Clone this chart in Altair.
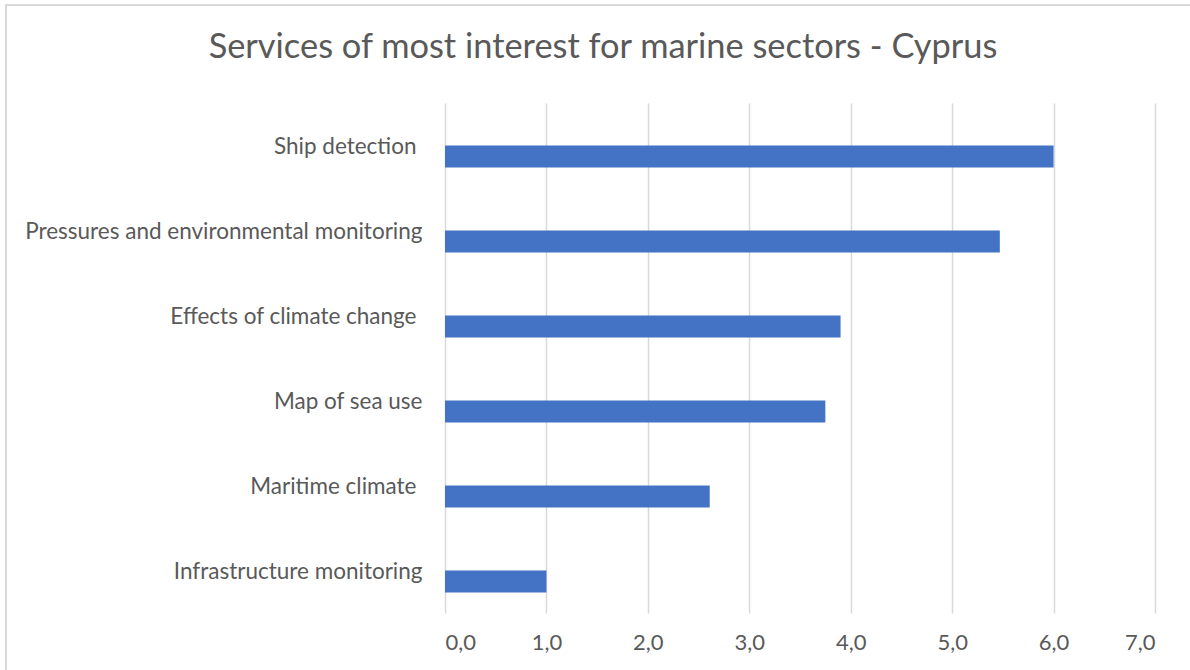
import altair as alt
import pandas as pd

categories = [
    "Ship detection ",
    "Pressures and environmental monitoring",
    "Effects of climate change ",
    "Map of sea use",
    "Maritime climate ",
    "Infrastructure monitoring",
]
values = [6.0, 5.47, 3.9, 3.75, 2.61, 1.0]
x_ticks = [0, 1, 2, 3, 4, 5, 6, 7]
title_text = "Services of most interest for marine sectors - Cyprus"

df = pd.DataFrame({"service": categories, "value": values})

FONT = "Lato"
GREY = "#595959"

bars = alt.Chart(df).mark_bar(color="#4472C4", size=22, yOffset=11).encode(
    x=alt.X(
        "value:Q",
        scale=alt.Scale(domain=[0, 7], nice=False),
        axis=alt.Axis(
            values=x_ticks,
            labelExpr="replace(format(datum.value, '.1f'), '.', ',')",
            title=None,
            grid=True,
            gridColor="#d9d9d9",
            gridWidth=1.5,
            domain=False,
            ticks=False,
            labelFont=FONT,
            labelFontSize=22,
            labelColor=GREY,
            labelPadding=19,
        ),
    ),
    y=alt.Y(
        "service:N",
        sort=categories,
        scale=alt.Scale(paddingInner=0, paddingOuter=0),
        axis=alt.Axis(
            title=None,
            domain=False,
            ticks=False,
            labelFont=FONT,
            labelFontSize=22.5,
            labelColor=GREY,
            labelPadding={
                "condition": {
                    "test": "substring(datum.value, length(datum.value) - 1) == ' '",
                    "value": 29,
                },
                "value": 23,
            },
            labelLimit=440,
            labelBaseline="middle",
            labelOffset=1,
        ),
    ),
)

frame = alt.Chart(df).mark_rect(
    fill=None, stroke="#d9d9d9", strokeWidth=1.5
).encode(
    x=alt.value(-439), x2=alt.value(780), y=alt.value(-98), y2=alt.value(600)
)

chart = alt.layer(frame, bars).properties(
    width=710,
    height=510,
    title=alt.TitleParams(
        title_text,
        font=FONT,
        fontSize=34.4,
        fontWeight="normal",
        color=GREY,
        anchor="middle",
        frame="group",
        dx=-197,
        offset=-61,
    ),
    autosize=alt.AutoSizeParams(type="none"),
    padding={"left": 445, "top": 103, "right": 35, "bottom": 57},
).configure(background="white").configure_view(stroke=None)

chart.save("out.html", embed_options={"renderer": "svg", "actions": False})
